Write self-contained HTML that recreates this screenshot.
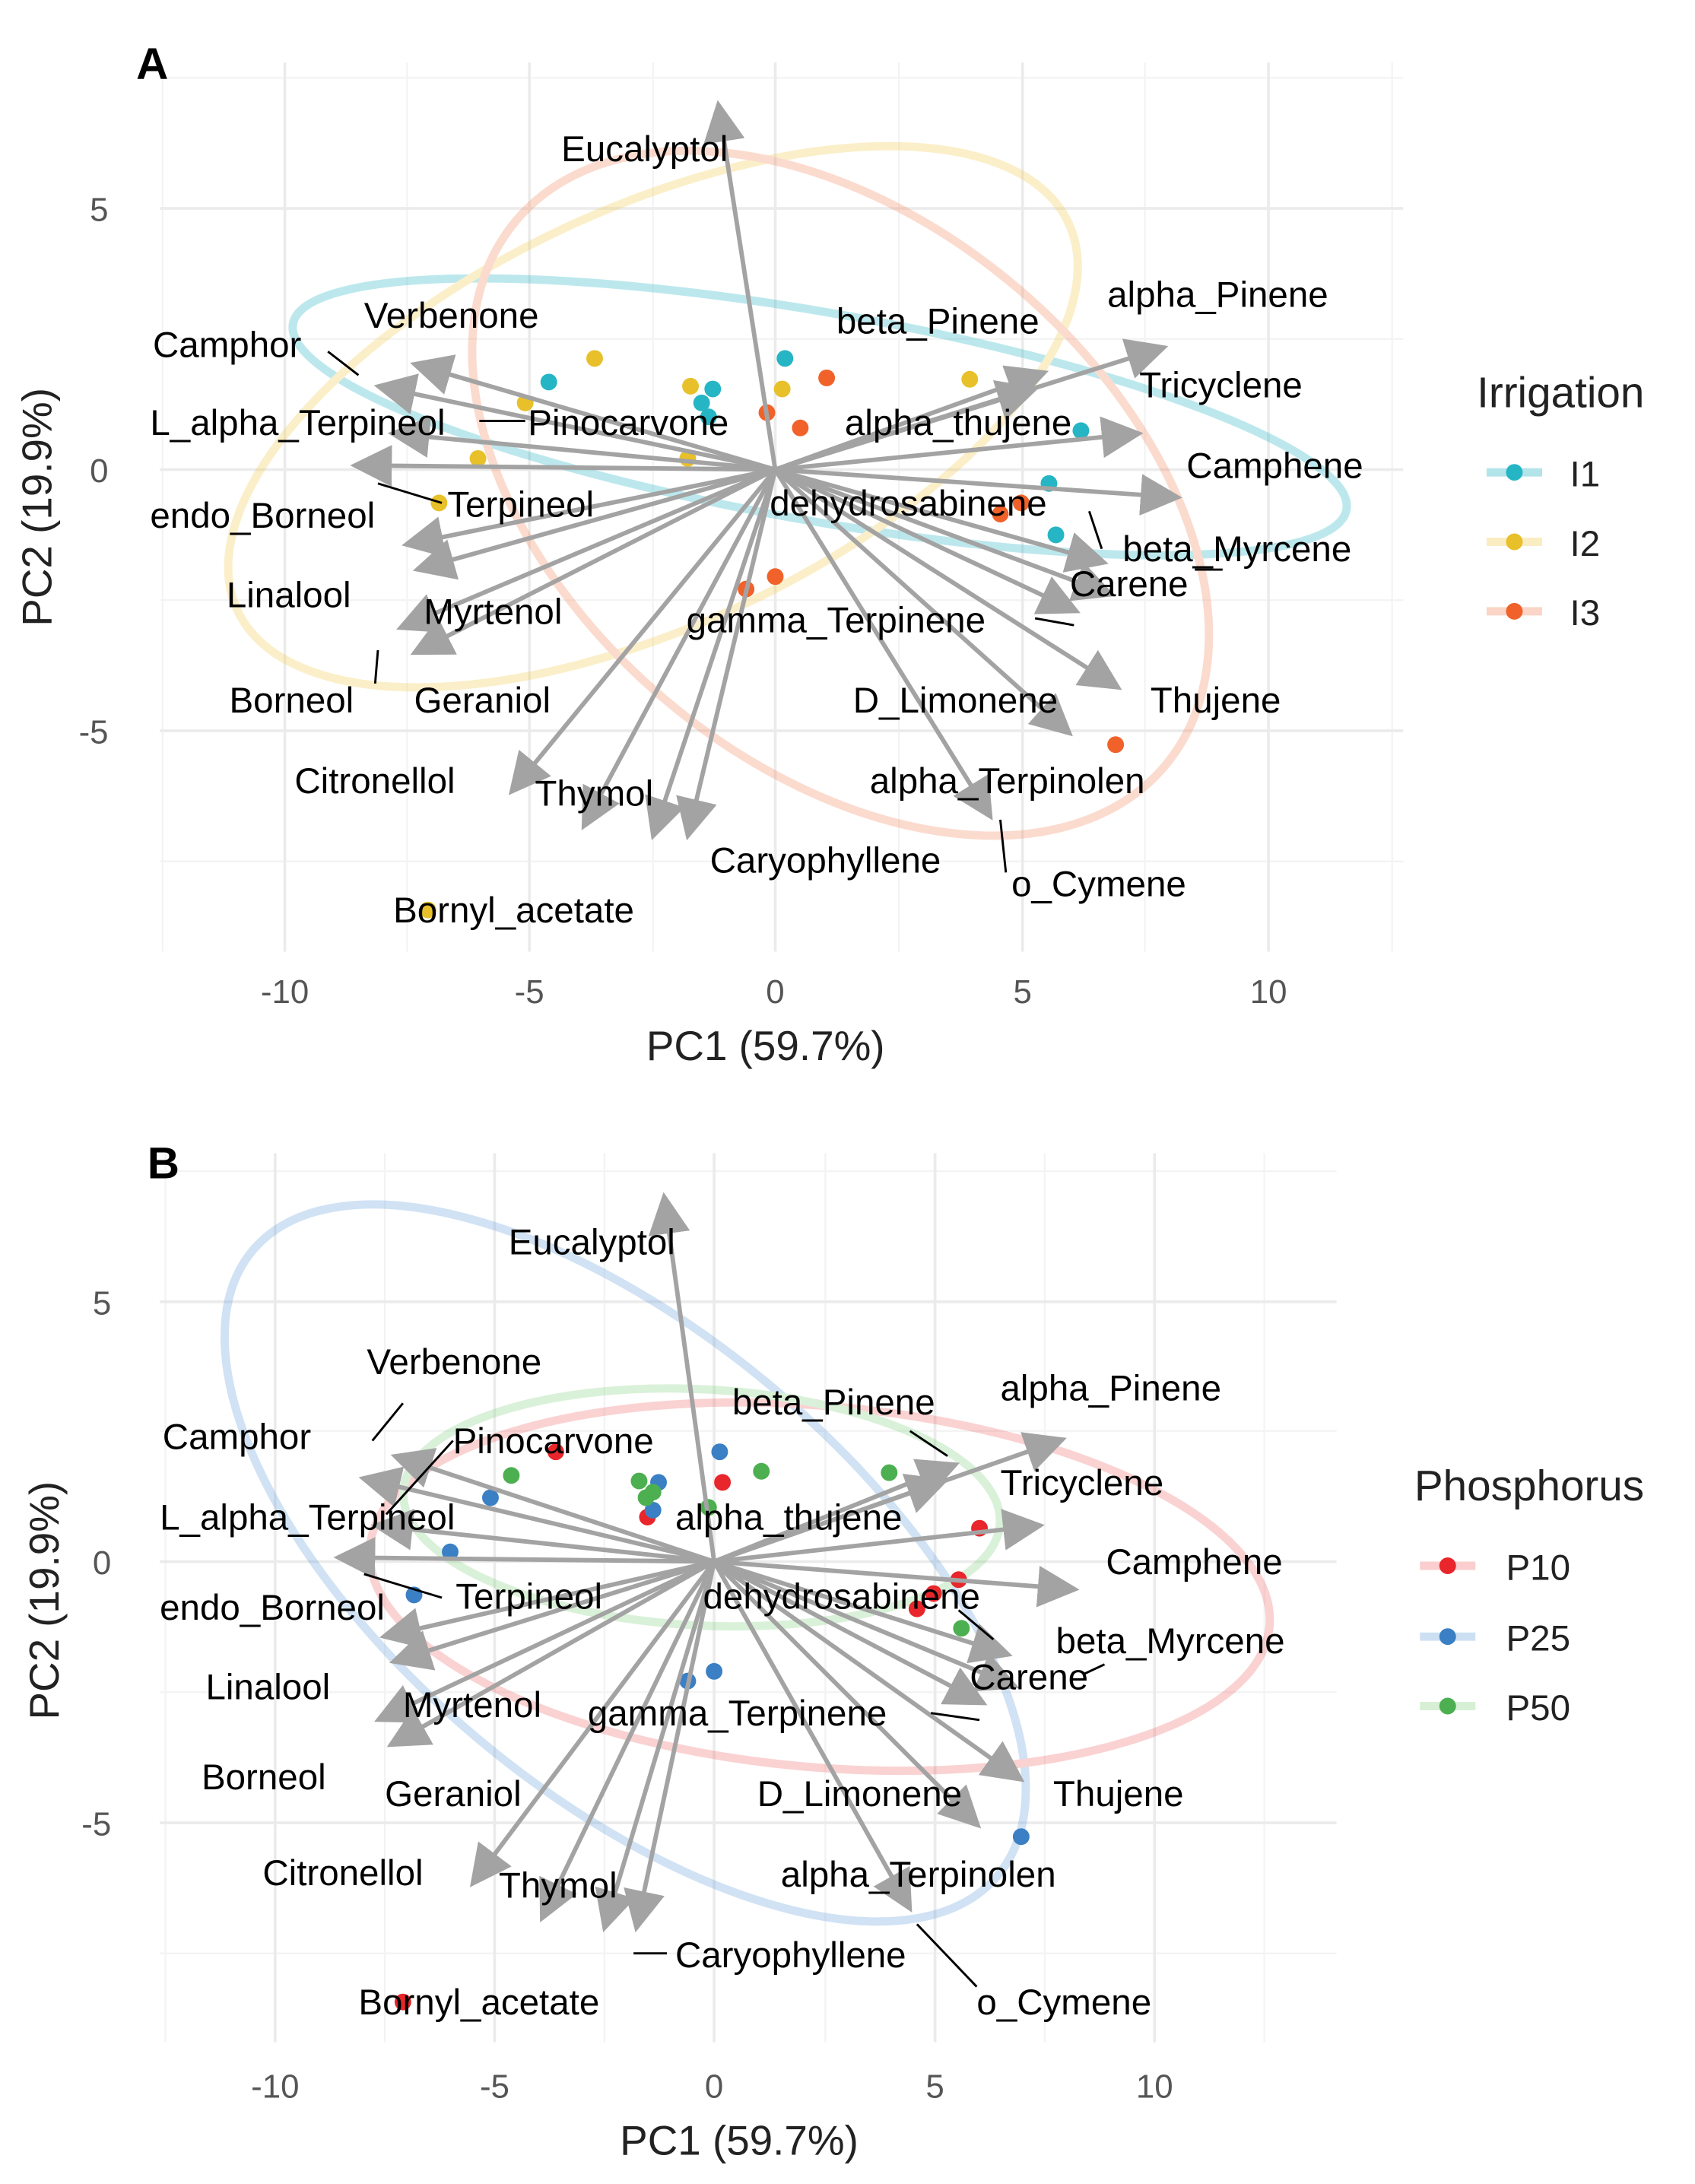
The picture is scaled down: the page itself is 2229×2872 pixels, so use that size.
<!DOCTYPE html>
<html><head><meta charset="utf-8"><style>
html,body{margin:0;padding:0;background:#fff}
svg{display:block}
text{font-family:"Liberation Sans",Arial,sans-serif}
.l{font-size:26px;fill:#000}
.t{font-size:24px;fill:#555}
.at{font-size:30px;fill:#222}
.g1{stroke:#ebebeb;stroke-width:2;fill:none}
.g2{stroke:#f3f3f3;stroke-width:1.2;fill:none}
.ar{stroke:#a3a3a3;stroke-width:3.2;fill:none;marker-end:url(#ah2)}
.sg{stroke:#000;stroke-width:1.6;fill:none}
</style></head><body>
<svg width="2229" height="2872" viewBox="0 0 1220 1572" xmlns="http://www.w3.org/2000/svg">
<defs>
<marker id="ah2" viewBox="0 0 10 10" refX="9" refY="5" markerWidth="30" markerHeight="30" orient="auto" markerUnits="userSpaceOnUse"><path d="M0,0L10,5L0,10z" fill="#a3a3a3"/></marker></defs>
<rect width="1220" height="1572" fill="#fff"/>

<!-- PANEL A -->
<g>
<g class="g2"><line x1="117" y1="45" x2="117" y2="685"/><line x1="293" y1="45" x2="293" y2="685"/><line x1="470" y1="45" x2="470" y2="685"/><line x1="647" y1="45" x2="647" y2="685"/><line x1="824" y1="45" x2="824" y2="685"/><line x1="1002" y1="45" x2="1002" y2="685"/>
<line x1="115" y1="56" x2="1010" y2="56"/><line x1="115" y1="244" x2="1010" y2="244"/><line x1="115" y1="432" x2="1010" y2="432"/><line x1="115" y1="620" x2="1010" y2="620"/></g>
<g class="g1"><line x1="205" y1="45" x2="205" y2="685"/><line x1="381" y1="45" x2="381" y2="685"/><line x1="558" y1="45" x2="558" y2="685"/><line x1="736" y1="45" x2="736" y2="685"/><line x1="913" y1="45" x2="913" y2="685"/>
<line x1="115" y1="150" x2="1010" y2="150"/><line x1="115" y1="338" x2="1010" y2="338"/><line x1="115" y1="526" x2="1010" y2="526"/></g>
<g fill="none" stroke-width="6" opacity="0.3">
<ellipse cx="590" cy="300" rx="385" ry="75" transform="rotate(10 590 300)" stroke="#26b5c4"/>
<ellipse cx="470" cy="300" rx="330" ry="150" transform="rotate(-25 470 300)" stroke="#f2cc50"/>
<ellipse cx="605" cy="355" rx="305" ry="195" transform="rotate(40 605 355)" stroke="#f58a60"/>
</g>
<g fill="#26b5c4"><circle cx="395" cy="275" r="6"/><circle cx="565" cy="258" r="6"/><circle cx="505" cy="290" r="6"/><circle cx="513" cy="280" r="6"/><circle cx="510" cy="300" r="6"/><circle cx="755" cy="348" r="6"/><circle cx="760" cy="385" r="6"/><circle cx="778" cy="310" r="6"/></g>
<g fill="#e8c02a"><circle cx="428" cy="258" r="6"/><circle cx="497" cy="278" r="6"/><circle cx="563" cy="280" r="6"/><circle cx="698" cy="273" r="6"/><circle cx="344" cy="330" r="6"/><circle cx="316" cy="362" r="6"/><circle cx="378" cy="290" r="6"/><circle cx="308" cy="655" r="6"/><circle cx="495" cy="330" r="6"/></g>
<g fill="#f0622a"><circle cx="552" cy="297" r="6"/><circle cx="576" cy="308" r="6"/><circle cx="595" cy="272" r="6"/><circle cx="537" cy="424" r="6"/><circle cx="558" cy="415" r="6"/><circle cx="735" cy="362" r="6"/><circle cx="720" cy="370" r="6"/><circle cx="803" cy="536" r="6"/></g>
<g class="ar">
<line x1="558" y1="338" x2="517" y2="75"/><line x1="558" y1="338" x2="838" y2="250"/><line x1="558" y1="338" x2="752" y2="268"/><line x1="558" y1="338" x2="820" y2="312"/><line x1="558" y1="338" x2="848" y2="358"/><line x1="558" y1="338" x2="795" y2="405"/><line x1="558" y1="338" x2="800" y2="428"/><line x1="558" y1="338" x2="775" y2="440"/><line x1="558" y1="338" x2="805" y2="495"/><line x1="558" y1="338" x2="770" y2="528"/><line x1="558" y1="338" x2="713" y2="588"/><line x1="558" y1="338" x2="495" y2="602"/><line x1="558" y1="338" x2="470" y2="602"/><line x1="558" y1="338" x2="420" y2="595"/><line x1="558" y1="338" x2="368" y2="570"/><line x1="558" y1="338" x2="288" y2="452"/><line x1="558" y1="338" x2="298" y2="470"/><line x1="558" y1="338" x2="300" y2="410"/><line x1="558" y1="338" x2="292" y2="392"/><line x1="558" y1="338" x2="255" y2="335"/><line x1="558" y1="338" x2="272" y2="278"/><line x1="558" y1="338" x2="298" y2="262"/><line x1="558" y1="338" x2="282" y2="312"/><line x1="558" y1="338" x2="745" y2="280"/>
</g>
<g class="sg"><line x1="236" y1="253" x2="258" y2="270"/><line x1="345" y1="303" x2="378" y2="303"/><line x1="272" y1="348" x2="318" y2="362"/><line x1="272" y1="468" x2="270" y2="492"/><line x1="720" y1="590" x2="724" y2="628"/><line x1="745" y1="445" x2="773" y2="450"/><line x1="784" y1="368" x2="793" y2="395"/><line x1="860" y1="410" x2="880" y2="410"/></g>
<g class="l">
<text x="404" y="116">Eucalyptol</text><text x="797" y="221">alpha_Pinene</text><text x="602" y="240">beta_Pinene</text><text x="820" y="286">Tricyclene</text><text x="608" y="313">alpha_thujene</text><text x="854" y="344">Camphene</text><text x="554" y="371">dehydrosabinene</text><text x="808" y="404">beta_Myrcene</text><text x="770" y="429">Carene</text><text x="494" y="455">gamma_Terpinene</text><text x="828" y="513">Thujene</text><text x="614" y="513">D_Limonene</text><text x="626" y="571">alpha_Terpinolen</text><text x="728" y="645">o_Cymene</text><text x="511" y="628">Caryophyllene</text><text x="385" y="580">Thymol</text><text x="212" y="571">Citronellol</text><text x="283" y="664">Bornyl_acetate</text><text x="165" y="513">Borneol</text><text x="298" y="513">Geraniol</text><text x="305" y="449">Myrtenol</text><text x="163" y="437">Linalool</text><text x="108" y="380">endo_Borneol</text><text x="322" y="372">Terpineol</text><text x="108" y="313">L_alpha_Terpineol</text><text x="380" y="313">Pinocarvone</text><text x="110" y="257">Camphor</text><text x="262" y="236">Verbenone</text>
</g>
<text x="98" y="57" font-size="32" font-weight="bold" fill="#000">A</text>
<g class="t" text-anchor="middle"><text x="205" y="722">-10</text><text x="381" y="722">-5</text><text x="558" y="722">0</text><text x="736" y="722">5</text><text x="913" y="722">10</text></g>
<g class="t" text-anchor="end"><text x="78" y="159">5</text><text x="78" y="347">0</text><text x="78" y="535">-5</text></g>
<text class="at" x="551" y="763" text-anchor="middle">PC1 (59.7%)</text>
<text class="at" transform="translate(37 365) rotate(-90)" text-anchor="middle">PC2 (19.9%)</text>
<text x="1063" y="293" font-size="31" fill="#222">Irrigation</text>
<g stroke-width="6" opacity="0.35"><line x1="1070" y1="340" x2="1110" y2="340" stroke="#26b5c4"/><line x1="1070" y1="390" x2="1110" y2="390" stroke="#f2cc50"/><line x1="1070" y1="440" x2="1110" y2="440" stroke="#f58a60"/></g>
<circle cx="1090" cy="340" r="6" fill="#26b5c4"/><circle cx="1090" cy="390" r="6" fill="#e8c02a"/><circle cx="1090" cy="440" r="6" fill="#f0622a"/>
<g font-size="26" fill="#222"><text x="1130" y="350">I1</text><text x="1130" y="400">I2</text><text x="1130" y="450">I3</text></g>
</g>

<!-- PANEL B -->
<g>
<g class="g2"><line x1="119" y1="830" x2="119" y2="1470"/><line x1="277" y1="830" x2="277" y2="1470"/><line x1="435" y1="830" x2="435" y2="1470"/><line x1="594" y1="830" x2="594" y2="1470"/><line x1="752" y1="830" x2="752" y2="1470"/><line x1="910" y1="830" x2="910" y2="1470"/>
<line x1="115" y1="843" x2="962" y2="843"/><line x1="115" y1="1030" x2="962" y2="1030"/><line x1="115" y1="1218" x2="962" y2="1218"/><line x1="115" y1="1406" x2="962" y2="1406"/></g>
<g class="g1"><line x1="198" y1="830" x2="198" y2="1470"/><line x1="356" y1="830" x2="356" y2="1470"/><line x1="514" y1="830" x2="514" y2="1470"/><line x1="673" y1="830" x2="673" y2="1470"/><line x1="831" y1="830" x2="831" y2="1470"/>
<line x1="115" y1="937" x2="962" y2="937"/><line x1="115" y1="1124" x2="962" y2="1124"/><line x1="115" y1="1312" x2="962" y2="1312"/></g>
<g fill="none" stroke-width="6" opacity="0.28">
<ellipse cx="450" cy="1125" rx="350" ry="165" transform="rotate(40 450 1125)" stroke="#5b9bd8"/>
<ellipse cx="590" cy="1142" rx="325" ry="130" transform="rotate(5 590 1142)" stroke="#f06060"/>
<ellipse cx="505" cy="1085" rx="215" ry="85" transform="rotate(3 505 1085)" stroke="#7ccf78"/>
</g>
<g fill="#e8262b"><circle cx="400" cy="1045" r="6"/><circle cx="520" cy="1067" r="6"/><circle cx="466" cy="1092" r="6"/><circle cx="705" cy="1100" r="6"/><circle cx="690" cy="1137" r="6"/><circle cx="672" cy="1147" r="6"/><circle cx="660" cy="1158" r="6"/><circle cx="290" cy="1441" r="6"/></g>
<g fill="#3b7fc4"><circle cx="518" cy="1045" r="6"/><circle cx="474" cy="1067" r="6"/><circle cx="470" cy="1087" r="6"/><circle cx="353" cy="1078" r="6"/><circle cx="324" cy="1117" r="6"/><circle cx="298" cy="1148" r="6"/><circle cx="514" cy="1203" r="6"/><circle cx="495" cy="1210" r="6"/><circle cx="735" cy="1322" r="6"/></g>
<g fill="#4caf50"><circle cx="368" cy="1062" r="6"/><circle cx="460" cy="1066" r="6"/><circle cx="465" cy="1078" r="6"/><circle cx="548" cy="1059" r="6"/><circle cx="640" cy="1060" r="6"/><circle cx="470" cy="1074" r="6"/><circle cx="692" cy="1172" r="6"/><circle cx="510" cy="1085" r="6"/></g>
<g class="ar">
<line x1="514" y1="1124" x2="478" y2="861"/><line x1="514" y1="1124" x2="765" y2="1036"/><line x1="514" y1="1124" x2="688" y2="1054"/><line x1="514" y1="1124" x2="749" y2="1098"/><line x1="514" y1="1124" x2="774" y2="1144"/><line x1="514" y1="1124" x2="726" y2="1191"/><line x1="514" y1="1124" x2="731" y2="1214"/><line x1="514" y1="1124" x2="708" y2="1226"/><line x1="514" y1="1124" x2="735" y2="1281"/><line x1="514" y1="1124" x2="704" y2="1314"/><line x1="514" y1="1124" x2="655" y2="1374"/><line x1="514" y1="1124" x2="458" y2="1388"/><line x1="514" y1="1124" x2="435" y2="1388"/><line x1="514" y1="1124" x2="390" y2="1381"/><line x1="514" y1="1124" x2="340" y2="1356"/><line x1="514" y1="1124" x2="272" y2="1238"/><line x1="514" y1="1124" x2="281" y2="1256"/><line x1="514" y1="1124" x2="283" y2="1196"/><line x1="514" y1="1124" x2="276" y2="1178"/><line x1="514" y1="1124" x2="243" y2="1121"/><line x1="514" y1="1124" x2="261" y2="1064"/><line x1="514" y1="1124" x2="284" y2="1048"/><line x1="514" y1="1124" x2="270" y2="1098"/><line x1="514" y1="1124" x2="680" y2="1066"/>
</g>
<g class="sg"><line x1="290" y1="1010" x2="268" y2="1037"/><line x1="326" y1="1037" x2="278" y2="1090"/><line x1="262" y1="1133" x2="318" y2="1150"/><line x1="655" y1="1030" x2="682" y2="1048"/><line x1="670" y1="1233" x2="705" y2="1238"/><line x1="690" y1="1159" x2="715" y2="1180"/><line x1="780" y1="1205" x2="795" y2="1198"/><line x1="456" y1="1406" x2="480" y2="1406"/><line x1="660" y1="1385" x2="703" y2="1430"/></g>
<g class="l">
<text x="366" y="903">Eucalyptol</text><text x="720" y="1008">alpha_Pinene</text><text x="527" y="1018">beta_Pinene</text><text x="720" y="1076">Tricyclene</text><text x="486" y="1101">alpha_thujene</text><text x="796" y="1133">Camphene</text><text x="506" y="1158">dehydrosabinene</text><text x="760" y="1190">beta_Myrcene</text><text x="698" y="1216">Carene</text><text x="423" y="1242">gamma_Terpinene</text><text x="758" y="1300">Thujene</text><text x="545" y="1300">D_Limonene</text><text x="562" y="1358">alpha_Terpinolen</text><text x="703" y="1450">o_Cymene</text><text x="486" y="1416">Caryophyllene</text><text x="359" y="1366">Thymol</text><text x="189" y="1357">Citronellol</text><text x="258" y="1450">Bornyl_acetate</text><text x="145" y="1288">Borneol</text><text x="277" y="1300">Geraniol</text><text x="290" y="1236">Myrtenol</text><text x="148" y="1223">Linalool</text><text x="115" y="1166">endo_Borneol</text><text x="328" y="1158">Terpineol</text><text x="115" y="1101">L_alpha_Terpineol</text><text x="326" y="1046">Pinocarvone</text><text x="117" y="1043">Camphor</text><text x="264" y="989">Verbenone</text>
</g>
<text x="106" y="848" font-size="32" font-weight="bold" fill="#000">B</text>
<g class="t" text-anchor="middle"><text x="198" y="1510">-10</text><text x="356" y="1510">-5</text><text x="514" y="1510">0</text><text x="673" y="1510">5</text><text x="831" y="1510">10</text></g>
<g class="t" text-anchor="end"><text x="80" y="946">5</text><text x="80" y="1133">0</text><text x="80" y="1321">-5</text></g>
<text class="at" x="532" y="1551" text-anchor="middle">PC1 (59.7%)</text>
<text class="at" transform="translate(42 1152) rotate(-90)" text-anchor="middle">PC2 (19.9%)</text>
<text x="1018" y="1080" font-size="31" fill="#222">Phosphorus</text>
<g stroke-width="6" opacity="0.3"><line x1="1022" y1="1127" x2="1062" y2="1127" stroke="#f06060"/><line x1="1022" y1="1178" x2="1062" y2="1178" stroke="#5b9bd8"/><line x1="1022" y1="1228" x2="1062" y2="1228" stroke="#7ccf78"/></g>
<circle cx="1042" cy="1127" r="6" fill="#e8262b"/><circle cx="1042" cy="1178" r="6" fill="#3b7fc4"/><circle cx="1042" cy="1228" r="6" fill="#4caf50"/>
<g font-size="26" fill="#222"><text x="1084" y="1137">P10</text><text x="1084" y="1188">P25</text><text x="1084" y="1238">P50</text></g>
</g>
</svg>
</body></html>
